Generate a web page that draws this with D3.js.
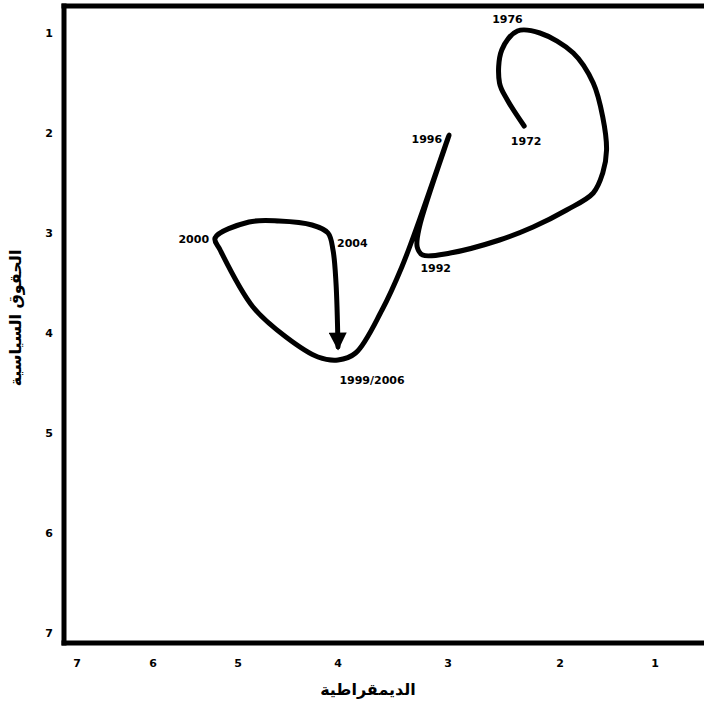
<!DOCTYPE html>
<html>
<head>
<meta charset="utf-8">
<script src="https://cdn.jsdelivr.net/npm/d3@7"></script>
<style>
  html, body { margin: 0; padding: 0; background: #fff; }
  svg { display: block; }
  text { font-family: "DejaVu Sans", Verdana, sans-serif; }
</style>
</head>
<body>
<svg id="chart" width="704" height="705"></svg>
<script>
// Trajectory of ratings: democracy (x, 7 = worst, 1 = best) vs political rights (y)
const pathX = [2.32, 2.47, 2.54, 2.52, 2.38, 2.18, 1.86, 1.65, 1.55, 1.51, 1.55, 1.65, 1.93, 2.24, 2.54, 2.98, 3.23, 3.28, 3.26, 2.99, 3.26, 3.42, 3.60, 3.84, 4.00, 4.20, 4.52, 4.85, 5.21, 5.27, 4.89, 4.59, 4.26, 4.10, 4.05, 4.02, 4.00];
const pathY = [1.93, 1.67, 1.50, 1.17, 0.98, 1.00, 1.20, 1.50, 1.84, 2.17, 2.40, 2.60, 2.77, 2.94, 3.07, 3.20, 3.22, 3.14, 2.94, 2.02, 2.87, 3.34, 3.77, 4.20, 4.27, 4.24, 4.04, 3.74, 3.17, 3.05, 2.89, 2.88, 2.92, 3.00, 3.17, 3.50, 4.14];

// Labelled years and where they sit on the trajectory
const yearLabels = ["1972", "1976", "1992", "1996", "1999/2006", "2000", "2004"];
const yearX = [2.32, 2.38, 3.23, 2.99, 4.00, 5.27, 4.05];
const yearY = [1.93, 0.98, 3.22, 2.02, 4.27, 3.05, 3.10];

// Axis ticks
const xTicks = [7, 6, 5, 4, 3, 2, 1];
const yTicks = [1, 2, 3, 4, 5, 6, 7];
const xTitle = "الديمقراطية";
const yTitle = "الحقوق السياسية";

const svg = d3.select("#chart");

// Democracy axis runs from 7 on the left to 1 on the right, unevenly spaced
const x = d3.scaleLinear().domain(xTicks).range([77, 153, 238, 338, 448, 560, 655]);
const y = d3.scaleLinear().domain([1, 7]).range([33, 633]);

// Frame: thick left, top and bottom rules, open past the right edge
const frame = svg.append("g").attr("stroke", "#000").attr("stroke-width", 5);
frame.append("line").attr("x1", 64).attr("y1", 3.5).attr("x2", 64).attr("y2", 645.5);
frame.append("line").attr("x1", 61.5).attr("y1", 6).attr("x2", 720).attr("y2", 6);
frame.append("line").attr("x1", 61.5).attr("y1", 643).attr("x2", 720).attr("y2", 643);

// Tick labels
svg.append("g").selectAll("text").data(xTicks).join("text")
  .attr("x", d => x(d)).attr("y", 667)
  .attr("text-anchor", "middle")
  .attr("font-size", 11).attr("font-weight", "bold")
  .text(d => d);

svg.append("g").selectAll("text").data(yTicks).join("text")
  .attr("x", 49).attr("y", d => y(d) + 4)
  .attr("text-anchor", "middle")
  .attr("font-size", 11).attr("font-weight", "bold")
  .text(d => d);

// Axis titles
svg.append("text")
  .attr("x", 368).attr("y", 695)
  .attr("text-anchor", "middle")
  .attr("font-size", 16).attr("font-weight", "bold")
  .attr("direction", "rtl")
  .text(xTitle);

svg.append("text")
  .attr("transform", "translate(21,318) rotate(-90)")
  .attr("text-anchor", "middle")
  .attr("font-size", 16).attr("font-weight", "bold")
  .attr("direction", "rtl")
  .text(yTitle);

// Arrowhead for the end of the trajectory
svg.append("defs").append("marker")
  .attr("id", "arrow")
  .attr("viewBox", "0 0 10 10")
  .attr("refX", 8).attr("refY", 5)
  .attr("markerUnits", "userSpaceOnUse")
  .attr("markerWidth", 19).attr("markerHeight", 18)
  .attr("orient", "auto")
  .append("path")
  .attr("d", "M0,0 L10,5 L0,10 Z")
  .attr("fill", "#000");

const pts = pathX.map((v, i) => [v, pathY[i]]);
const line = d3.line()
  .x(d => x(d[0]))
  .y(d => y(d[1]))
  .curve(d3.curveCatmullRom.alpha(0.5));

svg.append("path")
  .attr("d", line(pts))
  .attr("fill", "none")
  .attr("stroke", "#000")
  .attr("stroke-width", 5)
  .attr("stroke-linecap", "round")
  .attr("stroke-linejoin", "round")
  .attr("marker-end", "url(#arrow)");

// Year labels placed around their points
const labelOffset = {
  "1972": [2, 19, "middle"],
  "1976": [-10, -8, "middle"],
  "1992": [13, 17, "middle"],
  "1996": [-7, 8, "end"],
  "1999/2006": [34, 24, "middle"],
  "2000": [-6, 5, "end"],
  "2004": [4, 4, "start"]
};

svg.append("g").selectAll("text").data(yearLabels).join("text")
  .attr("x", (d, i) => x(yearX[i]) + labelOffset[d][0])
  .attr("y", (d, i) => y(yearY[i]) + labelOffset[d][1])
  .attr("text-anchor", d => labelOffset[d][2])
  .attr("font-size", 11).attr("font-weight", "bold")
  .text(d => d);
</script>
</body>
</html>
